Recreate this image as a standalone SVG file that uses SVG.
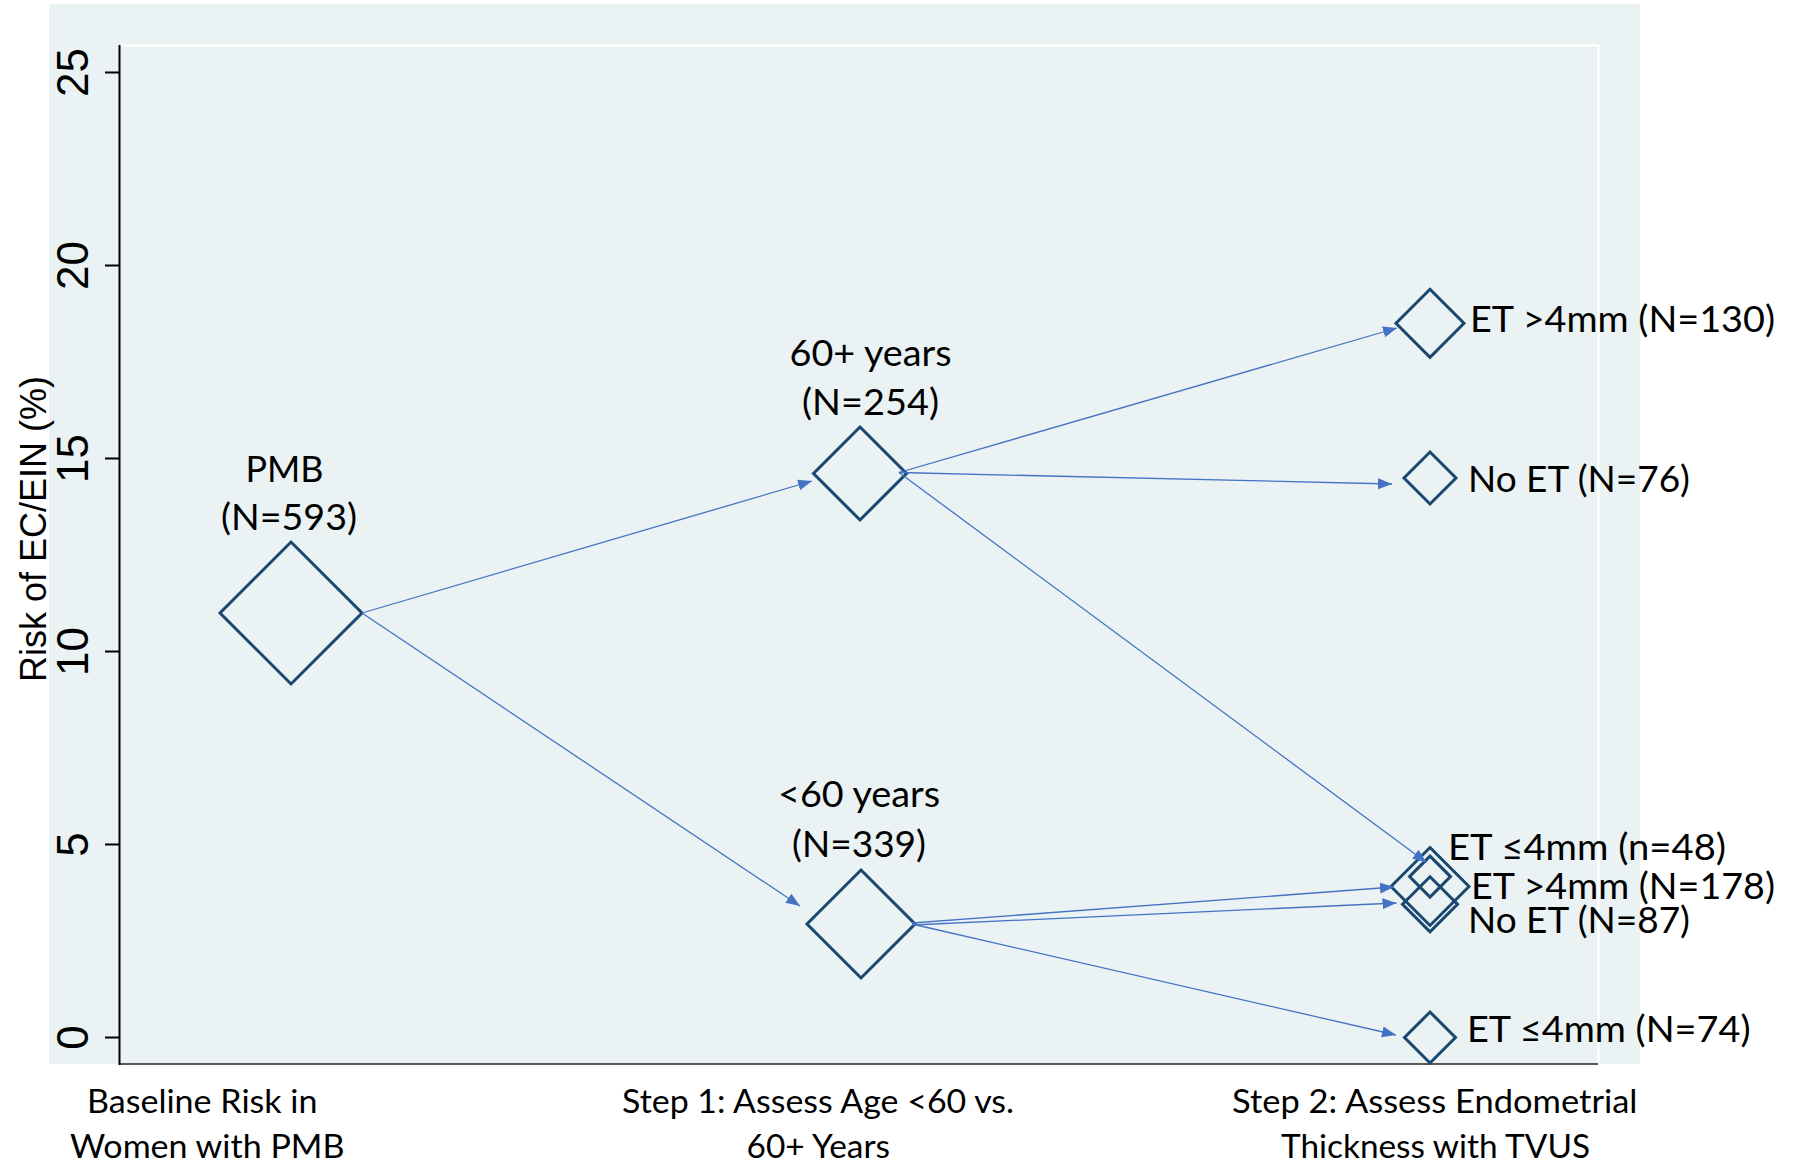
<svg xmlns="http://www.w3.org/2000/svg" width="1798" height="1165" viewBox="0 0 1798 1165">
<defs>
<marker id="ah" markerUnits="userSpaceOnUse" markerWidth="15" markerHeight="12" refX="14" refY="5.5" orient="auto" viewBox="0 0 15 11">
<path d="M0,0 L14,5.5 L0,11 z" fill="#4472C4"/>
</marker>
</defs>
<style>
.lbl{font-family:Lato,"Liberation Sans",sans-serif;font-size:36px;fill:#000}
.axl{font-family:Lato,"Liberation Sans",sans-serif;font-size:33px;fill:#000}
.tick{font-family:"Liberation Sans",Arial,sans-serif;font-size:44px;fill:#000}
.ytitle{font-family:"Liberation Sans",Arial,sans-serif;font-size:36px;fill:#000}
.dia{fill:none;stroke:#1A476F;stroke-width:3}
.arr{stroke:#4472C4;stroke-width:1.3;fill:none;marker-end:url(#ah)}
</style>
<rect width="1798" height="1165" fill="#fff"/>
<rect x="49" y="4" width="1591" height="1060" fill="#EAF2F3"/>
<path d="M120,45.5 H1598.5 V1064" fill="none" stroke="#fff" stroke-width="2.5"/>
<g id="axes">
<line x1="119" y1="1064" x2="1598" y2="1064" stroke="#5a5a5a" stroke-width="2"/>
<line x1="119.5" y1="45" x2="119.5" y2="1065" stroke="#000" stroke-width="2"/>
<g stroke="#000" stroke-width="2">
<line x1="105" y1="1037.5" x2="119" y2="1037.5"/>
<line x1="105" y1="844.5" x2="119" y2="844.5"/>
<line x1="105" y1="651.5" x2="119" y2="651.5"/>
<line x1="105" y1="458.5" x2="119" y2="458.5"/>
<line x1="105" y1="265.5" x2="119" y2="265.5"/>
<line x1="105" y1="72.5" x2="119" y2="72.5"/>
</g>
<g class="tick" text-anchor="middle">
<text transform="translate(88,1037.5) rotate(-90)">0</text>
<text transform="translate(88,844.5) rotate(-90)">5</text>
<text transform="translate(88,651.5) rotate(-90)">10</text>
<text transform="translate(88,458.5) rotate(-90)">15</text>
<text transform="translate(88,265.5) rotate(-90)">20</text>
<text transform="translate(88,72.5) rotate(-90)">25</text>
</g>
<text class="ytitle" text-anchor="middle" transform="translate(45.5,529) rotate(-90)">Risk of EC/EIN (%)</text>
<g class="axl" lengthAdjust="spacingAndGlyphs">
<text x="87" y="1113" textLength="230.5" lengthAdjust="spacingAndGlyphs">Baseline Risk in</text>
<text x="70" y="1158" textLength="274.5" lengthAdjust="spacingAndGlyphs">Women with PMB</text>
<text x="622" y="1113" textLength="392" lengthAdjust="spacingAndGlyphs">Step 1: Assess Age &lt;60 vs.</text>
<text x="746.5" y="1158" textLength="143.5" lengthAdjust="spacingAndGlyphs">60+ Years</text>
<text x="1232" y="1113" textLength="405.5" lengthAdjust="spacingAndGlyphs">Step 2: Assess Endometrial</text>
<text x="1281" y="1158" textLength="309" lengthAdjust="spacingAndGlyphs">Thickness with TVUS</text>
</g>
</g>
<g id="node-pmb">
<polygon class="dia" points="291,542 362,613 291,684 220,613"/>
<text class="lbl" x="245.5" y="482" textLength="78" lengthAdjust="spacingAndGlyphs">PMB</text>
<text class="lbl" x="221" y="530" textLength="136" lengthAdjust="spacingAndGlyphs">(N=593)</text>
</g>
<g id="node-60plus">
<polygon class="dia" points="860,427 906.5,473.5 860,520 813.5,473.5"/>
<text class="lbl" x="789.5" y="366" textLength="162" lengthAdjust="spacingAndGlyphs">60+ years</text>
<text class="lbl" x="802" y="415" textLength="137" lengthAdjust="spacingAndGlyphs">(N=254)</text>
</g>
<g id="node-under60">
<polygon class="dia" points="861,870 915,924 861,978 807,924"/>
<text class="lbl" x="778" y="806.5" textLength="162" lengthAdjust="spacingAndGlyphs">&lt;60 years</text>
<text class="lbl" x="792" y="857" textLength="134" lengthAdjust="spacingAndGlyphs">(N=339)</text>
</g>
<g id="node-et-gt4-130">
<polygon class="dia" points="1430,289.3 1464,323.3 1430,357.3 1396,323.3"/>
<text class="lbl" x="1470" y="332" textLength="305" lengthAdjust="spacingAndGlyphs">ET &gt;4mm (N=130)</text>
</g>
<g id="node-noet-76">
<polygon class="dia" points="1430,452 1456,478 1430,504 1404,478"/>
<text class="lbl" x="1468" y="491.5" textLength="222" lengthAdjust="spacingAndGlyphs">No ET (N=76)</text>
</g>
<g id="node-et-le4-48">
<polygon class="dia" points="1430,856.1 1450.5,876.6 1430,897.1 1409.5,876.6"/>
<text class="lbl" x="1448" y="859.5" textLength="278" lengthAdjust="spacingAndGlyphs">ET ≤4mm (n=48)</text>
</g>
<g id="node-et-gt4-178">
<polygon class="dia" points="1430,847.5 1469,886.5 1430,925.5 1391,886.5"/>
<text class="lbl" x="1471" y="899" textLength="304" lengthAdjust="spacingAndGlyphs">ET &gt;4mm (N=178)</text>
</g>
<g id="node-noet-87">
<polygon class="dia" points="1430,876.8 1457.5,904.3 1430,931.8 1402.5,904.3"/>
<text class="lbl" x="1468" y="932.5" textLength="222" lengthAdjust="spacingAndGlyphs">No ET (N=87)</text>
</g>
<g id="node-et-le4-74">
<polygon class="dia" points="1430,1012 1455.5,1037.5 1430,1063 1404.5,1037.5"/>
<text class="lbl" x="1467" y="1042" textLength="283.5" lengthAdjust="spacingAndGlyphs">ET ≤4mm (N=74)</text>
</g>
<g id="connectors">
<line class="arr" x1="362" y1="613" x2="812" y2="481"/>
<line class="arr" x1="362" y1="613" x2="800" y2="906"/>
<line class="arr" x1="899" y1="472.5" x2="1397" y2="328"/>
<line class="arr" x1="899" y1="472.5" x2="1392" y2="484"/>
<line class="arr" x1="899" y1="472.5" x2="1426.5" y2="862.5"/>
<line class="arr" x1="912" y1="923" x2="1394" y2="887"/>
<line class="arr" x1="912" y1="925" x2="1396.5" y2="903"/>
<line class="arr" x1="912" y1="924" x2="1396" y2="1035"/>
</g>
</svg>
